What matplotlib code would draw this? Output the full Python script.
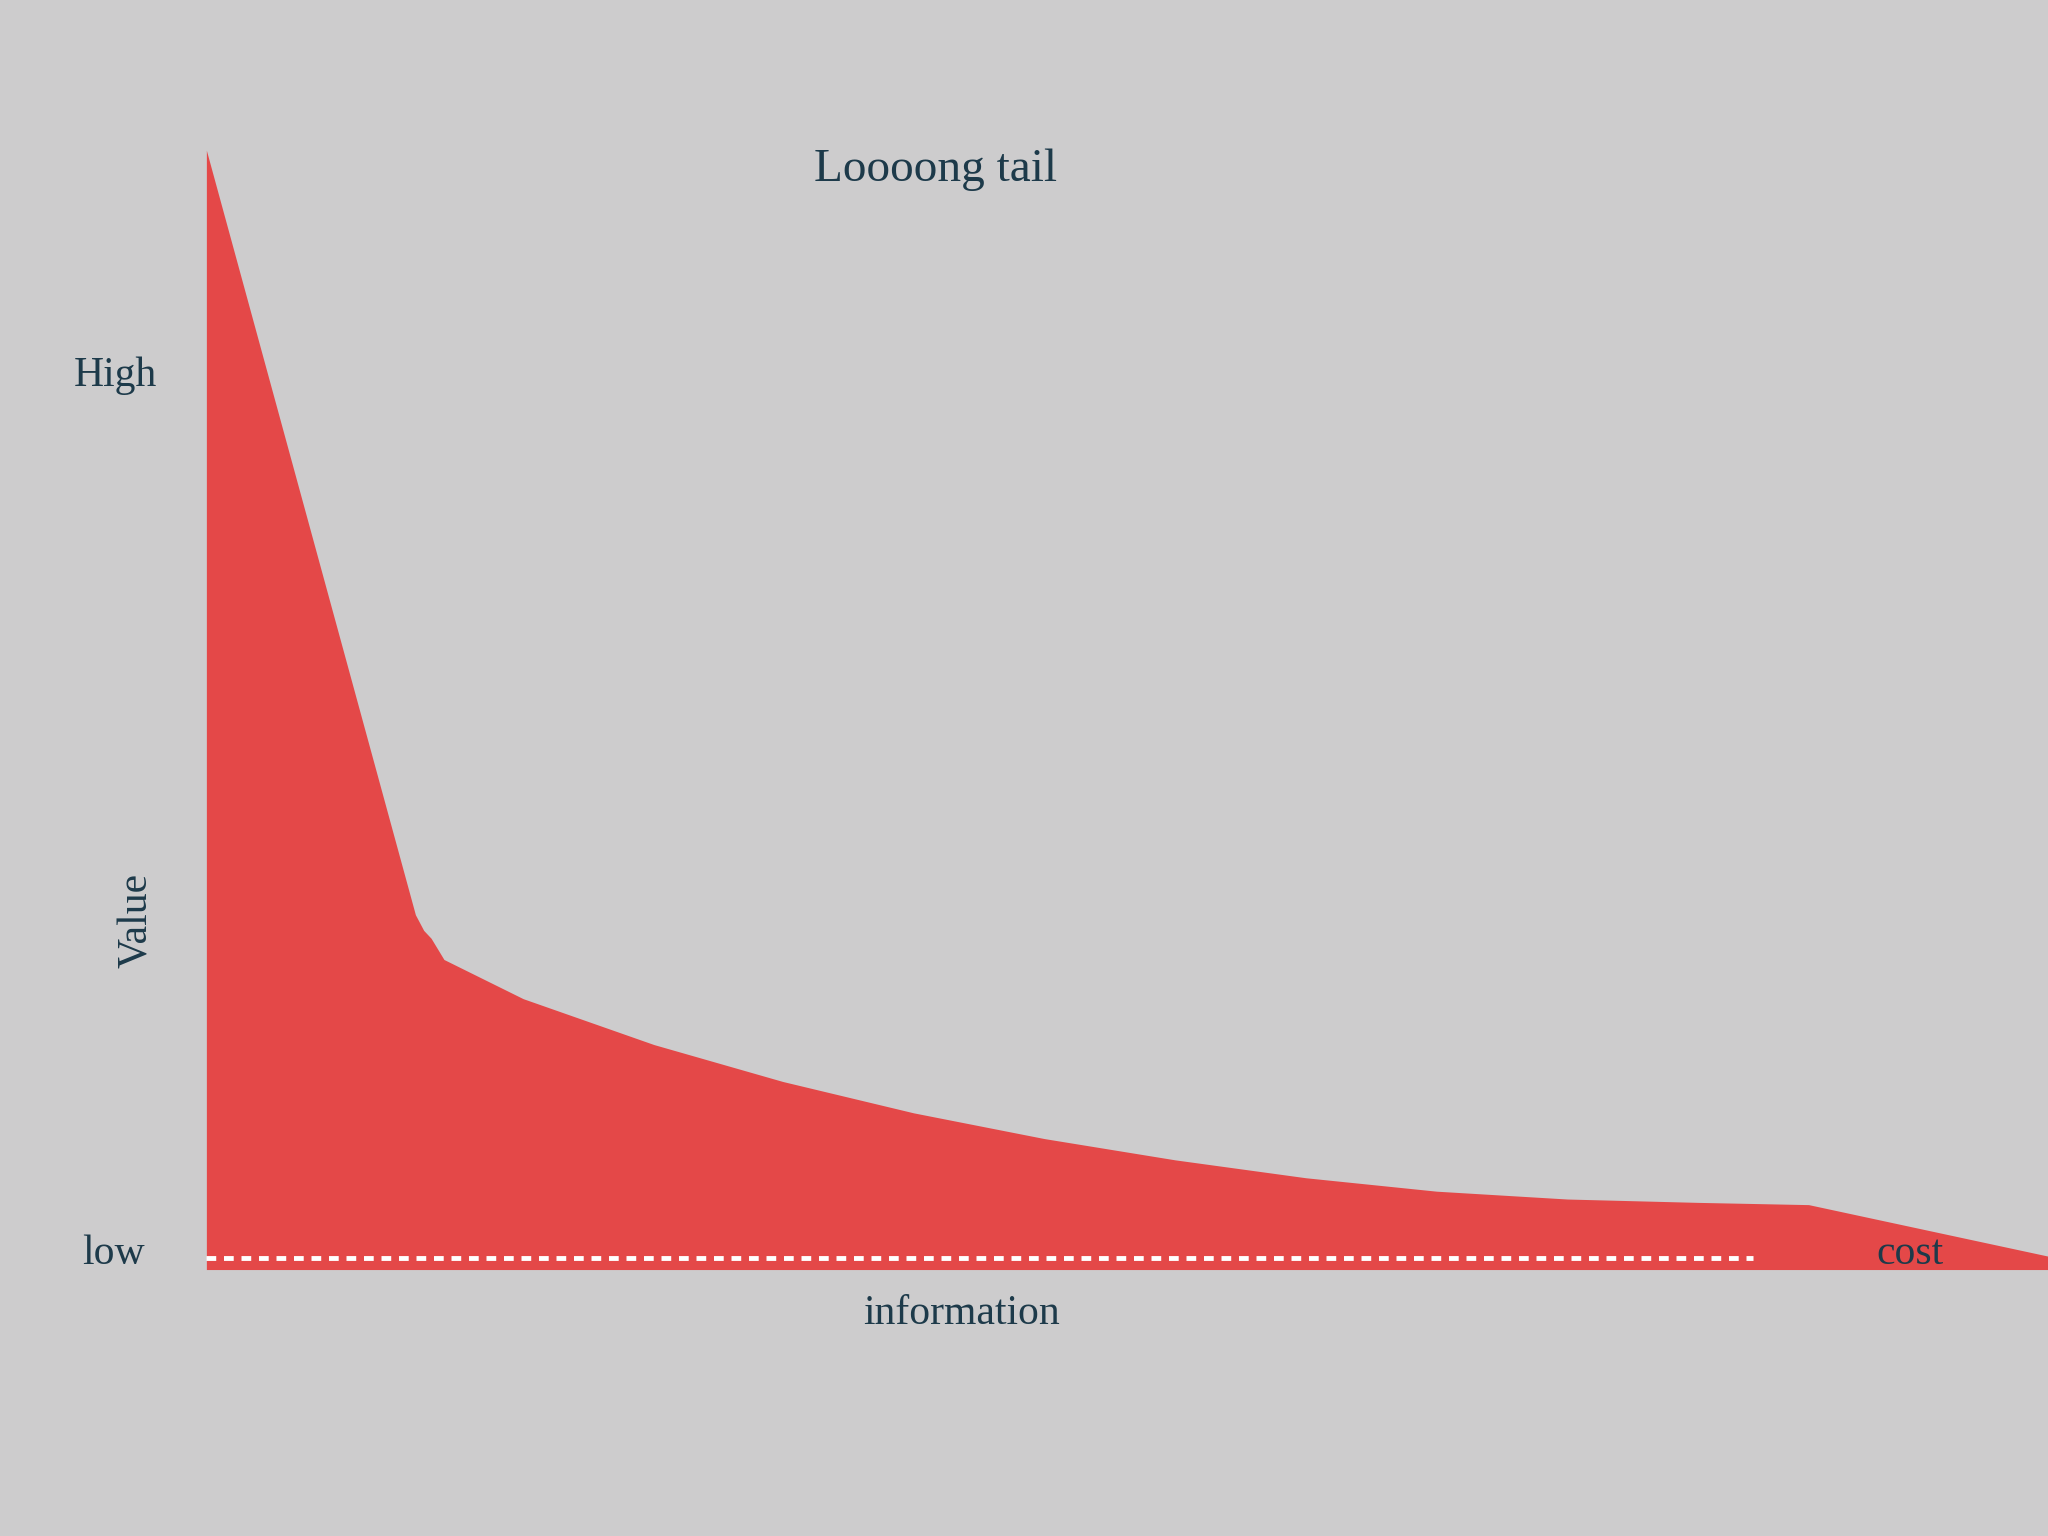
import matplotlib
matplotlib.use("Agg")
import matplotlib.pyplot as plt

# data (information axis 0..100, value axis 0..100)
info = [0, 11.35, 11.8, 12.2, 12.9, 17.2, 24.3, 31.3, 38.4, 45.5, 52.6, 59.7, 66.8, 73.9, 81.0, 87.0, 100]
value = [100, 31.7, 30.3, 29.6, 27.7, 24.2, 20.1, 16.8, 14.0, 11.7, 9.8, 8.2, 7.0, 6.3, 6.0, 5.8, 1.2]
cost_level = 1.05
cost_end = 84.0

BG = "#cdcccd"
RED = "#e44848"
TXT = "#1d3a4a"
FONT = ["Liberation Serif", "DejaVu Serif"]

fig = plt.figure(figsize=(20.48, 15.36), dpi=100, facecolor=BG)
W, H = 1568, 1176
ax = fig.add_axes([158 / W, 1 - 972 / H, (1568 - 158) / W, (972 - 115) / H])
ax.set_facecolor(BG)
ax.patch.set_alpha(0)
ax.fill_between(info, value, 0, color=RED, lw=0)
ax.plot([0, cost_end], [cost_level, cost_level], color="white", lw=3.5,
        dashes=(2, 1.6))
ax.set_xlim(0, 100)
ax.set_ylim(0, 100)
ax.axis("off")

def t(x, y, s, size, **kw):
    fig.text(x / W, 1 - y / H, s, fontsize=size, color=TXT, family=FONT,
             ha="center", va="center", **kw)

t(716, 130, "Loooong tail", 34)
t(88, 288, "High", 30)
t(105, 705, "Value", 30, rotation=90)
t(87, 960, "low", 30)
t(736, 1006, "information", 30)
t(1462, 960, "cost", 30)

fig.savefig("out.png", dpi=100, facecolor=BG)
